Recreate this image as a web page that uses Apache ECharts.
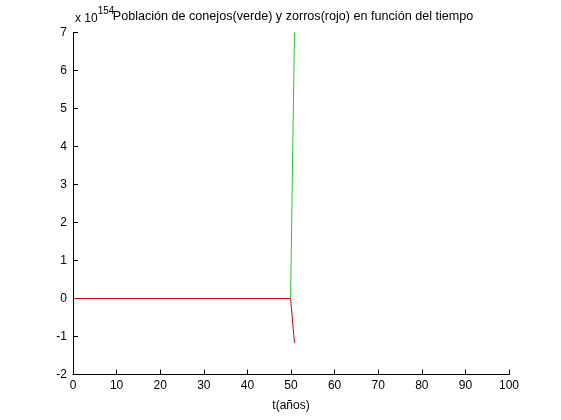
<!DOCTYPE html>
<html>
<head>
<meta charset="utf-8">
<script src="https://cdn.jsdelivr.net/npm/echarts@6/dist/echarts.min.js"></script>
<style>
  html, body { margin: 0; padding: 0; background: #fff; }
</style>
</head>
<body>
<div id="chart" style="width: 561px; height: 420px"></div>
<script>
// valores en unidades de 1e154
var tiempo = [0, 49.9, 50.8];
var conejos = [0, 0, 7.0];
var zorros = [0, 0, -1.17];
var xTicks = [0, 10, 20, 30, 40, 50, 60, 70, 80, 90, 100];
var yTicks = [-2, -1, 0, 1, 2, 3, 4, 5, 6, 7];

var chart = echarts.init(document.getElementById("chart"));
var font = "Liberation Sans, Arial, sans-serif";

var axisCommon = {
  axisLine: { show: true, onZero: false, lineStyle: { color: "#000", width: 1 } },
  axisTick: { show: true, inside: true, length: 5, lineStyle: { color: "#000" } },
  splitLine: { show: false },
  axisLabel: { color: "#000", fontSize: 12, fontFamily: font }
};

var option = {
  animation: false,
  backgroundColor: "#fff",
  grid: { left: 73, right: 52, top: 32.5, bottom: 45.5 },
  graphic: [
    {
      type: "text",
      x: 293,
      y: 10,
      style: {
        text: "Población de conejos(verde) y zorros(rojo) en función del tiempo",
        fill: "#000",
        font: "12.6px " + font,
        textAlign: "center"
      }
    },
    {
      type: "text",
      x: 75,
      y: 6,
      style: {
        rich: {
          a: { fontSize: 12, fontFamily: font, fill: "#000", padding: [7, 0, 0, 0] },
          b: { fontSize: 10, fontFamily: font, fill: "#000", verticalAlign: "top" }
        },
        text: "{a|x 10}{b|154}"
      }
    }
  ],
  xAxis: Object.assign({}, axisCommon, {
    type: "value",
    min: xTicks[0],
    max: xTicks[xTicks.length - 1],
    interval: 10,
    name: "t(años)",
    nameLocation: "middle",
    nameGap: 25,
    nameTextStyle: { color: "#000", fontSize: 12, fontFamily: font },
    axisLabel: Object.assign({}, axisCommon.axisLabel, { margin: 5 })
  }),
  yAxis: Object.assign({}, axisCommon, {
    type: "value",
    min: yTicks[0],
    max: yTicks[yTicks.length - 1],
    interval: 1,
    axisLabel: Object.assign({}, axisCommon.axisLabel, { margin: 6 })
  }),
  series: [
    {
      name: "conejos",
      type: "line",
      z: 2,
      data: tiempo.map(function (t, i) { return [t, conejos[i]]; }),
      symbol: "none",
      lineStyle: { color: "#22d022", width: 1 },
      clip: true
    },
    {
      name: "zorros",
      type: "line",
      z: 3,
      data: tiempo.map(function (t, i) { return [t, zorros[i]]; }),
      symbol: "none",
      lineStyle: { color: "#e00000", width: 1 },
      clip: true
    }
  ]
};

chart.setOption(option);
</script>
</body>
</html>
